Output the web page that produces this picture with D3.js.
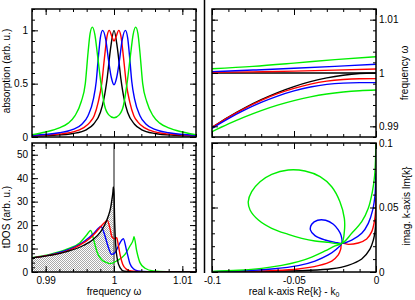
<!DOCTYPE html>
<html>
<head>
<meta charset="utf-8">
<script src="https://cdnjs.cloudflare.com/ajax/libs/d3/7.8.5/d3.min.js"></script>
<style>
  body { margin: 0; background: #fff; }
  svg { display: block; font-family: "Liberation Sans", Arial, sans-serif; }
</style>
</head>
<body>
<svg width="415" height="300"></svg>
<script>
// absorption vs frequency  [omega, A]
var absBlack = [[0.988,0.008],[0.991,0.015],[0.994,0.033],[0.996,0.07],[0.997,0.12],[0.998,0.23],[0.9985,0.35],[0.999,0.55],[0.9995,0.83],[1,1],[1.0005,0.83],[1.001,0.55],[1.0015,0.35],[1.002,0.23],[1.003,0.12],[1.004,0.07],[1.006,0.033],[1.009,0.015],[1.012,0.008]];
var absRed = [[0.988,0.012],[0.991,0.022],[0.994,0.048],[0.9955,0.085],[0.9965,0.14],[0.9971,0.2],[0.9977,0.33],[0.9982,0.5],[0.9986,0.74],[0.999,0.95],[0.9993,1.0],[0.9997,0.94],[1,0.9],[1.0003,0.94],[1.0007,1.0],[1.001,0.95],[1.0014,0.74],[1.0018,0.5],[1.0023,0.33],[1.0029,0.2],[1.0035,0.14],[1.0045,0.085],[1.006,0.048],[1.009,0.022],[1.012,0.012]];
var absBlue = [[0.988,0.017],[0.992,0.04],[0.994,0.072],[0.9953,0.12],[0.9962,0.2],[0.997,0.36],[0.9974,0.52],[0.9977,0.74],[0.998,0.93],[0.99834,1.0],[0.9988,0.91],[0.9992,0.72],[0.9996,0.56],[1,0.49],[1.0004,0.56],[1.0008,0.72],[1.0012,0.91],[1.00166,1.0],[1.002,0.93],[1.0023,0.74],[1.0026,0.52],[1.003,0.36],[1.0038,0.2],[1.0047,0.12],[1.006,0.072],[1.008,0.04],[1.012,0.017]];
var absGreen = [[0.988,0.022],[0.99,0.047],[0.992,0.085],[0.9933,0.13],[0.9943,0.2],[0.9952,0.33],[0.9958,0.5],[0.9962,0.79],[0.9965,0.97],[0.99683,1.03],[0.9972,0.96],[0.9976,0.76],[0.9981,0.5],[0.9986,0.3],[0.9992,0.21],[1,0.18],[1.0008,0.21],[1.0014,0.3],[1.0019,0.5],[1.0024,0.76],[1.0028,0.96],[1.00317,1.03],[1.0035,0.97],[1.0038,0.79],[1.0042,0.5],[1.0048,0.33],[1.0057,0.2],[1.0067,0.13],[1.008,0.085],[1.01,0.047],[1.012,0.022]];

// dispersion: [Re k - k0, omega], upper and lower branch
var dispBlackUp = [[-0.1,1.0],[-0.05,1.0],[0,1.0]];
var dispBlackLow = [[-0.1,0.9898],[-0.09,0.99174],[-0.08,0.99347],[-0.07,0.995],[-0.06,0.99633],[-0.05,0.99745],[-0.04,0.99837],[-0.03,0.99908],[-0.02,0.99959],[-0.01,0.9999],[0,1.0]];
var dispRedUp = [[-0.1,1.00013],[-0.075,1.00022],[-0.05,1.00035],[-0.025,1.00053],[0,1.00075]];
var dispRedLow = [[-0.1,0.9898],[-0.09,0.99168],[-0.08,0.99338],[-0.07,0.99487],[-0.06,0.99612],[-0.05,0.99713],[-0.04,0.99792],[-0.03,0.99847],[-0.02,0.99878],[-0.01,0.99892],[0,0.99895]];
var dispBlueUp = [[-0.1,1.00025],[-0.075,1.00055],[-0.05,1.00088],[-0.025,1.00125],[0,1.00163]];
var dispBlueLow = [[-0.1,0.98963],[-0.09,0.99145],[-0.08,0.99308],[-0.07,0.99449],[-0.06,0.99568],[-0.05,0.99664],[-0.04,0.99737],[-0.03,0.99786],[-0.02,0.99811],[-0.01,0.99819],[0,0.9982]];
var dispGreenUp = [[-0.1,1.00081],[-0.075,1.00125],[-0.05,1.00185],[-0.025,1.0025],[0,1.00306]];
var dispGreenLow = [[-0.1,0.989],[-0.09,0.99045],[-0.08,0.99178],[-0.07,0.99296],[-0.06,0.99398],[-0.05,0.99483],[-0.04,0.99552],[-0.03,0.99605],[-0.02,0.99643],[-0.01,0.99668],[0,0.99681]];

// tDOS vs frequency [omega, tDOS]
var dosBlack = [[0.988,6.0],[0.9906,7.1],[0.9931,8.7],[0.9955,11.3],[0.997,14.0],[0.998,17.0],[0.9987,20.5],[0.99917,23.9],[0.99951,27.4],[0.9997,31.0],[0.99985,34.3],[0.9999,36.3],[1.0,33.0],[1.0001,21.0],[1.00024,11.8],[1.00049,5.4],[1.00088,1.9],[1.0015,0.3],[1.003,0.05],[1.012,0]];
var dosRed = [[0.988,6.0],[0.9906,7.2],[0.9931,8.9],[0.995,11.5],[0.99649,14.4],[0.99746,17.3],[0.9982,19.8],[0.99868,21.2],[0.99902,22.0],[0.99941,18.6],[0.9997,15.0],[1.0001,14.2],[1.00039,14.6],[1.0006,12.0],[1.00088,7.5],[1.00127,3.3],[1.00185,1.1],[1.0025,0.4],[1.004,0.1],[1.012,0]];
var dosBlue = [[0.988,6.0],[0.9906,7.3],[0.9931,9.3],[0.99551,12.8],[0.99698,16.3],[0.99771,18.6],[0.9981,19.4],[0.9985,17.0],[0.99917,10.6],[0.99966,7.5],[1.00015,8.2],[1.00063,11.0],[1.0011,13.5],[1.00137,14.2],[1.00185,9.0],[1.00234,3.5],[1.00283,1.4],[1.0035,0.5],[1.005,0.15],[1.012,0]];
var dosGreen = [[0.988,6.1],[0.9906,7.5],[0.9931,9.7],[0.99502,12.5],[0.996,15.8],[0.99659,17.7],[0.99707,13.2],[0.99756,8.2],[0.9982,5.2],[0.99893,4.0],[0.9994,3.55],[1.00039,4.7],[1.00161,7.5],[1.00234,11.1],[1.00283,13.9],[1.00293,15.1],[1.00332,9.0],[1.0038,4.0],[1.00454,1.6],[1.00576,0.45],[1.0077,0.1],[1.012,0]];

// complex k: [Re k - k0, Im k]
var kBlack = [[-0.1,0.0002],[-0.084,0.0003],[-0.064,0.0006],[-0.043,0.0012],[-0.027,0.0025],[-0.017,0.0052],[-0.0087,0.0101],[-0.0037,0.0178],[-0.0016,0.0248],[-0.0006,0.0313],[-0.0002,0.0377],[0,0.041]];
var kRed = [[-0.1,0.0001],[-0.0839,0.0003],[-0.0636,0.001],[-0.0474,0.0023],[-0.0352,0.0049],[-0.027,0.0085],[-0.023,0.0132],[-0.0215,0.0178],[-0.0209,0.0222],[-0.0169,0.0214],[-0.0108,0.0225],[-0.0057,0.0256],[-0.0026,0.0313],[-0.001,0.039],[-0.0002,0.0481],[0,0.0571]];
var kBlue = [[-0.1,0.0003],[-0.0839,0.0008],[-0.0636,0.0023],[-0.0474,0.0049],[-0.0372,0.0085],[-0.0291,0.0132],[-0.024,0.0178],[-0.0209,0.0222],[-0.0213,0.0284],[-0.023,0.0326],[-0.026,0.037],[-0.0307,0.0401],[-0.0356,0.0401],[-0.0392,0.037],[-0.04,0.0326],[-0.0372,0.0282],[-0.0311,0.0248],[-0.025,0.023],[-0.0209,0.0222],[-0.0148,0.0248],[-0.0087,0.03],[-0.0047,0.0377],[-0.002,0.0481],[-0.0006,0.0597],[-0.0002,0.07],[0,0.0765]];
var kGreen = [[-0.1,0.0005],[-0.0839,0.0013],[-0.0697,0.0028],[-0.0575,0.0051],[-0.0474,0.008],[-0.0392,0.0116],[-0.0311,0.0163],[-0.025,0.0202],[-0.0209,0.0222],[-0.0193,0.0313],[-0.0193,0.0416],[-0.022,0.0545],[-0.027,0.0661],[-0.0341,0.0739],[-0.0433,0.0783],[-0.0535,0.0791],[-0.0636,0.0757],[-0.0707,0.07],[-0.0758,0.0623],[-0.0779,0.0545],[-0.0768,0.0481],[-0.0717,0.0403],[-0.0636,0.0339],[-0.0535,0.0292],[-0.0453,0.0261],[-0.0372,0.024],[-0.0291,0.023],[-0.0209,0.0222],[-0.0148,0.03],[-0.0087,0.039],[-0.0047,0.0494],[-0.0022,0.0623],[-0.0008,0.0752],[-0.0002,0.0907],[0,0.1]];

var freqTicks = [0.99, 1, 1.01];
var kTicks = [-0.1, -0.05, 0];
var absTicks = [0, 0.5, 1];
var dosTicks = [0, 10, 20, 30, 40, 50];
var imTicks = [0, 0.05, 0.1];

var svg = d3.select("svg");
var L = {x0: 32, x1: 196}, R = {x0: 212, x1: 376}, T = {y0: 9, y1: 137}, B = {y0: 143, y1: 272};

var xw = d3.scaleLinear().domain([0.988, 1.012]).range([L.x0, L.x1]);
var xk = d3.scaleLinear().domain([-0.1, 0]).range([R.x0, R.x1]);
var yA = d3.scaleLinear().domain([0, 1.2]).range([T.y1, T.y0]);
var yW = d3.scaleLinear().domain([0.988, 1.012]).range([T.y1, T.y0]);
var yD = d3.scaleLinear().domain([0, 55]).range([B.y1, B.y0]);
var yI = d3.scaleLinear().domain([0, 0.1]).range([B.y1, B.y0]);

var fmt = function(d){ return String(+d.toFixed(4)); };

var defs = svg.append("defs");
var pat = defs.append("pattern").attr("id", "dots").attr("width", 2).attr("height", 2)
    .attr("patternUnits", "userSpaceOnUse");
pat.append("rect").attr("width", 2).attr("height", 2).attr("fill", "#fff");
pat.append("rect").attr("width", 1).attr("height", 1).attr("fill", "#aaa");
pat.append("rect").attr("x", 1).attr("y", 1).attr("width", 1).attr("height", 1).attr("fill", "#aaa");

function clip(id, x0, y0, x1, y1){
    defs.append("clipPath").attr("id", id).append("rect")
        .attr("x", x0).attr("y", y0).attr("width", x1 - x0).attr("height", y1 - y0);
}
clip("cA", L.x0, T.y0, L.x1, T.y1);
clip("cB", R.x0, T.y0, R.x1, T.y1);
clip("cC", L.x0, B.y0, L.x1, B.y1);
clip("cD", R.x0, B.y0, R.x1, B.y1);
clip("cFill", L.x0, B.y0, xw(1), B.y1);

// one axis (ticks inward), optionally with labels
function axis(kind, scale, pos, values, size, labels, pad){
    var a = d3["axis" + kind](scale).tickValues(values).tickSize(-size)
        .tickPadding(pad || 4).tickFormat(labels ? fmt : "");
    var tr = (kind == "Bottom" || kind == "Top") ? "translate(0," + pos + ")" : "translate(" + pos + ",0)";
    var g = svg.append("g").attr("transform", tr).call(a);
    g.select(".domain").remove();
    g.selectAll("line").attr("stroke", "#000").attr("stroke-width", 1);
    g.selectAll("text").attr("font-size", 10).attr("fill", "#000")
        .attr("font-family", "'Liberation Sans', Arial, sans-serif");
    g.attr("font-family", null).attr("font-size", null);
    return g;
}

function frame(xs, ys, box, xMaj, xMin, yMaj, yMin, lab){
    axis("Bottom", xs, box.y1, xMaj, 6, lab.b, 5);
    axis("Bottom", xs, box.y1, xMin, 3, false);
    axis("Top", xs, box.y0, xMaj, 6, false);
    axis("Top", xs, box.y0, xMin, 3, false);
    axis("Left", ys, box.x0, yMaj, 6, lab.l, 4);
    axis("Left", ys, box.x0, yMin, 3, false);
    axis("Right", ys, box.x1, yMaj, 6, lab.r, 3);
    axis("Right", ys, box.x1, yMin, 3, false);
    svg.append("rect").attr("x", box.x0).attr("y", box.y0)
        .attr("width", box.x1 - box.x0).attr("height", box.y1 - box.y0)
        .attr("fill", "none").attr("stroke", "#000").attr("stroke-width", 1.5);
}

var freqMinor = d3.range(0, 13).map(function(i){ return 0.988 + 0.002 * i; });
var kMinor = d3.range(0, 11).map(function(i){ return -0.1 + 0.01 * i; });

function draw(clipId, data, xs, ys, color, curve){
    var line = d3.line().x(function(d){ return xs(d[0]); }).y(function(d){ return ys(d[1]); })
        .curve(curve || d3.curveMonotoneX);
    svg.append("path").datum(data).attr("clip-path", "url(#" + clipId + ")")
        .attr("d", line).attr("fill", "none").attr("stroke", color)
        .attr("stroke-width", 1.4).attr("stroke-linejoin", "round");
}

// panel C fill + spike
var area = d3.area().x(function(d){ return xw(d[0]); }).y0(yD(0))
    .y1(function(d){ return yD(d[1]); }).curve(d3.curveMonotoneX);
svg.append("path").datum(dosBlack).attr("clip-path", "url(#cFill)")
    .attr("d", area).attr("fill", "url(#dots)");
svg.append("line").attr("x1", xw(1)).attr("x2", xw(1)).attr("y1", yD(0)).attr("y2", yD(55))
    .attr("stroke", "#888").attr("stroke-width", 2);

// panel A
[[absBlack,"#000"],[absRed,"#f00"],[absBlue,"#00f"],[absGreen,"#0e0"]].forEach(function(s){
    draw("cA", s[0], xw, yA, s[1]);
});
// panel B
[[dispBlackUp,"#000"],[dispBlackLow,"#000"],[dispRedUp,"#f00"],[dispRedLow,"#f00"],
 [dispBlueUp,"#00f"],[dispBlueLow,"#00f"],[dispGreenUp,"#0e0"],[dispGreenLow,"#0e0"]].forEach(function(s){
    draw("cB", s[0], xk, yW, s[1]);
});
// panel C
[[dosGreen,"#0e0"],[dosBlue,"#00f"],[dosRed,"#f00"],[dosBlack,"#000"]].forEach(function(s){
    draw("cC", s[0], xw, yD, s[1]);
});
// panel D
var cr = d3.curveCatmullRom.alpha(0.5);
[[kBlack,"#000"],[kRed,"#f00"],[kBlue,"#00f"],[kGreen,"#0e0"]].forEach(function(s){
    draw("cD", s[0], xk, yI, s[1], cr);
});

frame(xw, yA, {x0:L.x0,x1:L.x1,y0:T.y0,y1:T.y1}, freqTicks, freqMinor, absTicks, d3.range(0, 13).map(function(i){ return i / 10; }), {l:true});
frame(xk, yW, {x0:R.x0,x1:R.x1,y0:T.y0,y1:T.y1}, kTicks, kMinor, freqTicks, freqMinor, {r:true});
frame(xw, yD, {x0:L.x0,x1:L.x1,y0:B.y0,y1:B.y1}, freqTicks, freqMinor, dosTicks, d3.range(0, 28).map(function(i){ return i * 2; }), {l:true, b:true});
frame(xk, yI, {x0:R.x0,x1:R.x1,y0:B.y0,y1:B.y1}, kTicks, kMinor, imTicks, d3.range(0, 11).map(function(i){ return i / 100; }), {r:true, b:true});

// divider
svg.append("line").attr("x1", 204.5).attr("x2", 204.5).attr("y1", 0).attr("y2", 273)
    .attr("stroke", "#000").attr("stroke-width", 1.5);

// titles
function title(txt, x, y, rot){
    var t = svg.append("text").attr("font-size", 10).attr("text-anchor", "middle")
        .attr("transform", "translate(" + x + "," + y + ")" + (rot ? " rotate(-90)" : ""));
    t.text(txt);
    return t;
}
title("absorption (arb. u.)", 10, 71, true);
title("tDOS (arb. u.)", 10, 217, true);
title("frequency \u03c9", 114, 295, false);
title("frequency \u03c9", 408, 73, true);
title("imag. k-axis Im{k}", 410, 206, true);
var t = title("real k-axis Re{k} - k", 294, 295, false);
t.append("tspan").attr("font-size", 7).attr("dy", 2).text("0");
</script>
</body>
</html>
